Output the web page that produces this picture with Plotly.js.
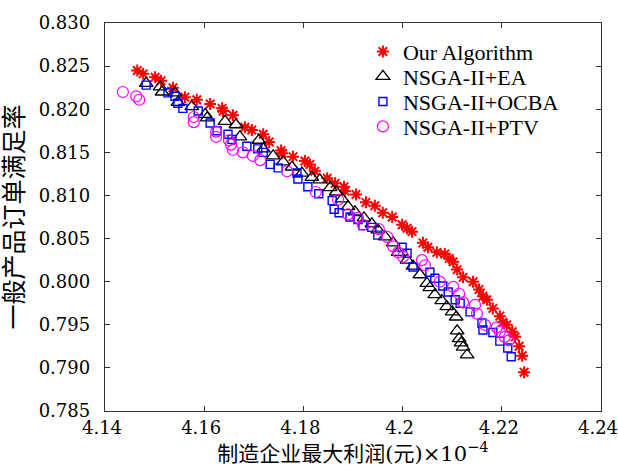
<!DOCTYPE html>
<html>
<head>
<meta charset="utf-8">
<script src="https://cdn.plot.ly/plotly-3.0.1.min.js"></script>
<style>
html,body{margin:0;padding:0;background:#fff;}
#chart{width:618px;height:475px;}
#chart .xtick text, #chart .ytick text { font-family: 'DejaVu Serif', serif !important; }
</style>
</head>
<body>
<div id="chart"></div>
<script>
var seriesNames = ['Our Algorithm', 'NSGA-II+EA', 'NSGA-II+OCBA', 'NSGA-II+PTV'];

var ourX = [4.1465,4.1477,4.1501,4.1513,4.1537,4.1561,4.1585,4.1612,4.1636,4.1638,4.1658,4.1682,4.1696,4.1719,4.1731,4.1755,4.1757,4.1779,4.1803,4.1813,4.1823,4.1848,4.1864,4.1882,4.1884,4.1906,4.1926,4.1944,4.1960,4.1979,4.1999,4.2009,4.2019,4.2041,4.2051,4.2069,4.2085,4.2094,4.2102,4.2110,4.2122,4.2142,4.2154,4.2162,4.2170,4.2182,4.2196,4.2202,4.2210,4.2221,4.2227,4.2235,4.2241,4.2245];
var ourY = [0.8245,0.8241,0.8237,0.8233,0.8225,0.8214,0.8211,0.8206,0.8201,0.8198,0.8193,0.8179,0.8176,0.8171,0.8162,0.8152,0.8149,0.8145,0.8140,0.8136,0.8128,0.8120,0.8114,0.8110,0.8105,0.8101,0.8092,0.8088,0.8080,0.8075,0.8066,0.8062,0.8058,0.8045,0.8040,0.8034,0.8032,0.8027,0.8023,0.8014,0.8005,0.8000,0.7991,0.7983,0.7979,0.7969,0.7960,0.7953,0.7950,0.7942,0.7936,0.7925,0.7914,0.7895];

var eaX = [4.1483,4.1511,4.1515,4.1541,4.1547,4.1575,4.1602,4.1606,4.1642,4.1664,4.1672,4.1710,4.1719,4.1739,4.1759,4.1777,4.1797,4.1817,4.1833,4.1854,4.1866,4.1878,4.1890,4.1904,4.1922,4.1938,4.1950,4.1965,4.1981,4.1991,4.2009,4.2021,4.2035,4.2049,4.2055,4.2065,4.2079,4.2089,4.2100,4.2108,4.2110,4.2114,4.2118,4.2122,4.2130];
var eaY = [0.8230,0.8226,0.8220,0.8219,0.8208,0.8203,0.8194,0.8190,0.8186,0.8182,0.8168,0.8164,0.8154,0.8146,0.8139,0.8133,0.8126,0.8121,0.8118,0.8109,0.8104,0.8096,0.8087,0.8081,0.8074,0.8067,0.8060,0.8052,0.8045,0.8034,0.8025,0.8018,0.8008,0.7998,0.7993,0.7985,0.7978,0.7971,0.7965,0.7959,0.7943,0.7934,0.7929,0.7924,0.7915];

var ocbaX = [4.1483,4.1527,4.1541,4.1547,4.1557,4.1588,4.1612,4.1626,4.1648,4.1656,4.1686,4.1708,4.1719,4.1733,4.1749,4.1787,4.1789,4.1809,4.1831,4.1858,4.1862,4.1872,4.1894,4.1910,4.1920,4.1938,4.1950,4.1999,4.2009,4.2021,4.2055,4.2065,4.2081,4.2092,4.2106,4.2116,4.2136,4.2160,4.2162,4.2182,4.2196,4.2212,4.2219];
var ocbaY = [0.8228,0.8219,0.8215,0.8207,0.8201,0.8198,0.8184,0.8175,0.8171,0.8165,0.8157,0.8154,0.8150,0.8136,0.8132,0.8126,0.8119,0.8110,0.8102,0.8094,0.8084,0.8080,0.8075,0.8072,0.8065,0.8063,0.8054,0.8040,0.8033,0.8017,0.8011,0.8004,0.7995,0.7988,0.7979,0.7975,0.7965,0.7952,0.7944,0.7941,0.7931,0.7923,0.7913];

var ptvX = [4.1436,4.1463,4.1469,4.1579,4.1579,4.1624,4.1624,4.1650,4.1654,4.1658,4.1678,4.1698,4.1713,4.1767,4.1825,4.1870,4.1890,4.1910,4.1920,4.1952,4.1969,4.1981,4.1991,4.2001,4.2039,4.2045,4.2075,4.2102,4.2114,4.2122,4.2146,4.2150,4.2166,4.2190,4.2196,4.2206,4.2214];
var ptvY = [0.8220,0.8215,0.8211,0.8191,0.8185,0.8174,0.8168,0.8164,0.8159,0.8153,0.8150,0.8146,0.8141,0.8128,0.8104,0.8095,0.8078,0.8074,0.8066,0.8061,0.8052,0.8041,0.8034,0.8029,0.8025,0.8019,0.8000,0.7994,0.7986,0.7976,0.7973,0.7963,0.7950,0.7947,0.7942,0.7936,0.7932];

var xTickVals = [4.14, 4.16, 4.18, 4.20, 4.22, 4.24];
var xTickText = ['4.14', '4.16', '4.18', '4.2', '4.22', '4.24'];
var yTickVals = [0.785, 0.790, 0.795, 0.800, 0.805, 0.810, 0.815, 0.820, 0.825, 0.830];
var yTickText = ['0.785', '0.790', '0.795', '0.800', '0.805', '0.810', '0.815', '0.820', '0.825', '0.830'];

var LEGENDFONT = 'Liberation Serif';
var TICKFONT = 'DejaVu Serif';
var TITLEFONT = 'DejaVu Serif, Noto Sans CJK SC';

var traces = [
  {x: ourX, y: ourY, name: seriesNames[0], type: 'scatter', mode: 'markers', legend: 'legend',
   marker: {symbol: 'asterisk-open', size: 10, color: '#ff0000', line: {color: '#ff0000', width: 2}}},
  {x: eaX, y: eaY, name: seriesNames[1], type: 'scatter', mode: 'markers', legend: 'legend2',
   marker: {symbol: 'triangle-up-open', size: 12, color: '#000000', line: {color: '#000000', width: 1.3}}},
  {x: ocbaX, y: ocbaY, name: seriesNames[2], type: 'scatter', mode: 'markers', legend: 'legend3',
   marker: {symbol: 'square-open', size: 8, color: '#0000ff', line: {color: '#0000ff', width: 1.4}}},
  {x: ptvX, y: ptvY, name: seriesNames[3], type: 'scatter', mode: 'markers', legend: 'legend4',
   marker: {symbol: 'circle-open', size: 11, color: '#ff00ff', line: {color: '#ff00ff', width: 1.2}}}
];

function leg(y) {
  return {x: 0.52, y: y, xanchor: 'left', yanchor: 'middle', bgcolor: 'rgba(0,0,0,0)',
          borderwidth: 0, font: {family: LEGENDFONT, size: 22, color: '#000'}, itemwidth: 30};
}

var layout = {
  width: 618, height: 475,
  margin: {l: 105, r: 17, t: 23, b: 64},
  paper_bgcolor: '#fff', plot_bgcolor: '#fff',
  font: {family: TICKFONT, size: 18, color: '#000'},
  showlegend: true,
  legend: leg(0.926),
  legend2: leg(0.862),
  legend3: leg(0.797),
  legend4: leg(0.733),
  xaxis: {
    range: [4.14, 4.24], tickmode: 'array', tickvals: xTickVals, ticktext: xTickText,
    ticks: 'inside', ticklen: 5, tickwidth: 1, tickcolor: '#333',
    showline: true, linecolor: '#333', linewidth: 1.2, mirror: 'ticks',
    showgrid: false, zeroline: false, ticklabeloverflow: 'allow', ticklabelshift: -3,
    tickfont: {family: TICKFONT, size: 18, color: '#000'},
    title: {text: '制造企业最大利润(元)×10<sup>−4</sup>', font: {family: TITLEFONT, size: 21, color: '#000'}, standoff: 8}
  },
  yaxis: {
    range: [0.785, 0.830], tickmode: 'array', tickvals: yTickVals, ticktext: yTickText,
    ticks: 'inside', ticklen: 5, tickwidth: 1, tickcolor: '#333',
    showline: true, linecolor: '#333', linewidth: 1.2, mirror: 'ticks',
    showgrid: false, zeroline: false,
    ticklabelstandoff: 10,
    tickfont: {family: TICKFONT, size: 18, color: '#000'},
    title: {text: '一般产品订单满足率', font: {family: TITLEFONT, size: 25, color: '#000'}, standoff: 8}
  }
};

Plotly.newPlot('chart', traces, layout, {displayModeBar: false, staticPlot: true});
</script>
</body>
</html>
